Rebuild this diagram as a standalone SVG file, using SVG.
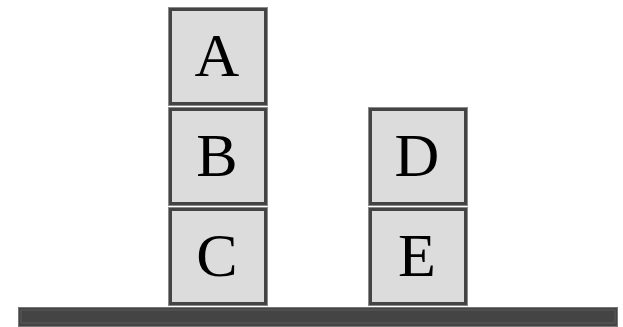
<svg xmlns="http://www.w3.org/2000/svg" width="623" height="327" viewBox="0 0 623 327">
<style>
.outer{fill:none;stroke:#8a8a8a;stroke-width:1}
.box{fill:#dcdcdc;stroke:#444;stroke-width:3}
.lbl{font-family:"Liberation Serif","DejaVu Serif",serif;font-size:62px;fill:#000;text-anchor:middle}
</style>
<rect width="623" height="327" fill="#fff"/>
<g id="ground">
<rect x="18.5" y="307.5" width="599" height="19" fill="#444" stroke="#777" stroke-width="1"/>
<rect x="21" y="310" width="594" height="13" fill="none" stroke="#5a5a5a" stroke-width="1"/>
</g>
<g id="A">
<rect class="outer" x="168.5" y="7.5" width="99" height="98"/>
<rect class="box" x="170.5" y="9.5" width="95" height="94"/>
<text class="lbl" x="217" y="76">A</text>
</g>
<g id="B">
<rect class="outer" x="168.5" y="107.5" width="99" height="98"/>
<rect class="box" x="170.5" y="109.5" width="95" height="94"/>
<text class="lbl" x="217" y="176">B</text>
</g>
<g id="C">
<rect class="outer" x="168.5" y="207.5" width="99" height="98"/>
<rect class="box" x="170.5" y="209.5" width="95" height="94"/>
<text class="lbl" x="217" y="276">C</text>
</g>
<g id="D">
<rect class="outer" x="368.5" y="107.5" width="99" height="98"/>
<rect class="box" x="370.5" y="109.5" width="95" height="94"/>
<text class="lbl" x="417" y="176">D</text>
</g>
<g id="E">
<rect class="outer" x="368.5" y="207.5" width="99" height="98"/>
<rect class="box" x="370.5" y="209.5" width="95" height="94"/>
<text class="lbl" x="417" y="276">E</text>
</g>
<g id="connectors"></g>
</svg>
